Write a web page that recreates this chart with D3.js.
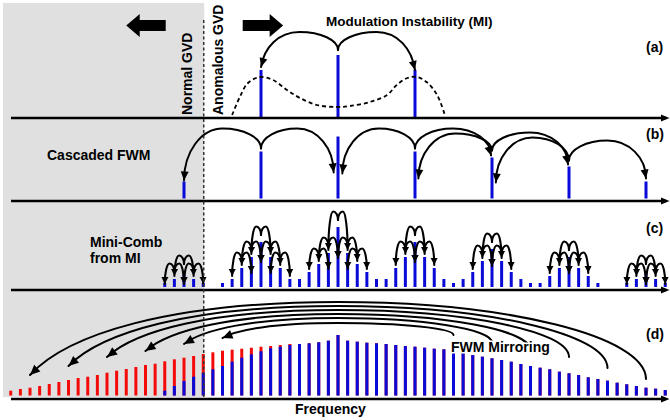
<!DOCTYPE html>
<html><head><meta charset="utf-8">
<script src="https://cdn.jsdelivr.net/npm/d3@7"></script>
<style>body{margin:0;background:#fff}svg{display:block}text{font-family:"Liberation Sans",Arial,sans-serif;font-weight:bold;fill:#000}</style>
</head><body>
<svg id="c" width="670" height="420"></svg>
<script>
// ---------- DATA (frequency index k; pump at k=16; amplitudes in arbitrary units) ----------
const freqDomain = [-18, 50];
const pumpK = 16;

// (a) Modulation instability
const aLinesK = [8, 16, 24];
const aLinesAmp = [47, 62, 47];
const miGainK = [5.0, 5.8, 6.65, 7.9, 9.25, 10.7, 12.05, 13.8, 15.9, 17.25, 19.3, 21.1, 22.1, 23.2, 24.2, 25.2, 26.3, 27.1];
const miGainAmp = [2, 20, 34, 40, 37, 27, 19, 12, 10, 11, 15, 22, 32, 39, 40, 35, 22, 2];
const aArcSrc = [16, 16], aArcTip = [8, 24], aArcStart = [67, 67], aArcPeak = [85, 85], aArcTipAmp = [50, 47];

// (b) Cascaded FWM
const bLinesK = [0, 8, 16, 24, 32, 40, 48];
const bLinesAmp = [17, 47, 62, 47, 41, 32, 17];
const bArcSrc   = [8, 8, 24, 24, 32, 32, 40, 40];
const bArcTip   = [0, 15.55, 16.45, 31.9, 24.35, 39.9, 32.4, 48];
const bArcStart = [50, 50, 50, 50, 48, 48, 38, 38];
const bArcPeak  = [70, 70, 70, 70, 65, 66, 61, 58];
const bArcTipAmp= [18, 26, 25, 43, 20, 34, 16, 20];

// (c) Mini-comb from MI
const cK   = [-2,-1,0,1,2, 4,5,6,7,8,9,10,11,12,13,14,15,16,17,18,19,20,21,22,23,24,25,26,27,28,29,30,31,32,33,34,35,36,37,38,39,40,41,42,43, 46,47,48,49,50];
const cAmp = [4,8,16,8,4, 4,8,19,30,45,30,19,8,8,15,23,34,60,34,23,15,8,8,19,30,45,30,19,8,4,8,15,26,38,26,15,8,4,4,11,19,30,19,11,4, 4,8,16,8,4];
const cGroups = [0, 8, 16, 24, 32, 40, 48];
const cLevels = [2, 3, 3, 2, 2, 2, 2];

// (d) FWM mirroring
const dK = d3.range(-18, 51);
const dTotal = [4.8,6.5,7.8,9.5,11.5,13.5,15.5,17.5,18.8,20.5,22.8,24.8,26.5,28.5,30.5,31.8,34.2,36.2,37.8,39.5,41.5,43.2,44.8,45.8,46.8,47.8,48.8,49.5,50.5,51.5,
  51.5,52.2,53.2,54.8,60.5,54.8,53.8,52.8,52.2,51.5,50.5,49.5,48.8,47.8,46.8,46.2,44.5,42.8,40.5,38.8,37.2,35.5,33.8,31.5,29.5,27.8,26.2,23.8,22.2,20.5,18.2,16.5,14.8,12.8,11.2,9.5,7.8,6.8,5.5];
const dBlue  = [0,0,0,0,0,0,0,0,0,0,0,0,0,0,0,0,4.8,9.5,14.5,18.8,22.8,26.2,29.5,33.8,37.8,41.2,44.2,47.2,48.8,50.5,
  51.5,52.2,53.2,54.8,60.5,54.8,53.8,52.8,52.2,51.5,50.5,49.5,48.8,47.8,46.8,46.2,44.5,42.8,40.5,38.8,37.2,35.5,33.8,31.5,29.5,27.8,26.2,23.8,22.2,20.5,18.2,16.5,14.8,12.8,11.2,9.5,7.8,6.8,5.5];
const dArcSrc = [28, 32, 36, 40, 44, 48];
const dArcTip = [4, 0, -4, -8, -12, -16];
const dArcStart = [60.5, 53, 45.5, 38.5, 27.5, 16.5];
const dArcPeak = [72.5, 77.5, 81.5, 85.5, 89.5, 93.5];
const dArcTipAmp = [57.5, 51.5, 44.5, 38.5, 29.5, 20.5];

// ---------- DRAWING ----------
const BLUE = "#0a0ad8", RED = "#f50a0a";
const svg = d3.select("#c");
const x = d3.scaleLinear().domain(freqDomain).range([10.75, 665.25]);
const axisY = [118, 201, 290, 399];
const yA = d3.scaleLinear().domain([0, 100]).range([117, 17]);
const yB = d3.scaleLinear().domain([0, 100]).range([198.5, 98.5]);
const yC = d3.scaleLinear().domain([0, 100]).range([287, 187]);
const yD = d3.scaleLinear().domain([0, 100]).range([395.5, 295.5]);

// grey normal-GVD region
svg.append("rect").attr("x", 3).attr("y", 3).attr("width", x(2.1) - 3).attr("height", 394).attr("fill", "#e0e0e0");

const gBars = svg.append("g"), gArcs = svg.append("g");

function bars(ks, amps, y, color) {
  gBars.selectAll(null).data(ks.map((k, i) => [k, amps[i]]).filter(d => d[1] > 0)).enter()
    .append("rect").attr("x", d => x(d[0]) - 1.5).attr("width", 3)
    .attr("y", d => y(d[1])).attr("height", d => y(0) - y(d[1])).attr("fill", color);
}

function arc(x0, y0, xp, yp, x1, y1, sw, headLen, headW, back, slant) {
  const k = 0.5523, sl = slant || 0;
  const d = `M${x0},${y0}C${x0},${y0 - k * (y0 - yp)} ${xp + k * (x0 - xp)},${yp} ${xp},${yp}` +
            `C${xp + k * (x1 - xp)},${yp} ${x1 + sl * (xp - x1)},${y1 - k * (y1 - yp)} ${x1},${y1}`;
  const p = gArcs.append("path").attr("d", d).attr("fill", "none").attr("stroke", "#000")
    .attr("stroke-width", sw).attr("stroke-linecap", "round");
  if (headLen > 0) {
    const node = p.node(), L = node.getTotalLength();
    const q = node.getPointAtLength(Math.max(0, L - back));
    let dx = x1 - q.x, dy = y1 - q.y; const n = Math.hypot(dx, dy) || 1; dx /= n; dy /= n;
    const bx = x1 - dx * headLen, by = y1 - dy * headLen;
    gArcs.append("path").attr("d", `M${x1},${y1}L${bx - dy * headW},${by + dx * headW}L${bx + dy * headW},${by - dx * headW}Z`)
      .attr("fill", "#000");
  }
}

// (a)
bars(aLinesK, aLinesAmp, yA, BLUE);
gArcs.append("path").datum(miGainK.map((k, i) => [k, miGainAmp[i]]))
  .attr("d", d3.line().x(d => x(d[0])).y(d => yA(d[1])).curve(d3.curveCatmullRom))
  .attr("fill", "none").attr("stroke", "#000").attr("stroke-width", 1.8).attr("stroke-dasharray", "4,3");
aArcSrc.forEach((s, i) => arc(x(s), yA(aArcStart[i]), (x(s) + x(aArcTip[i])) / 2, yA(aArcPeak[i]), x(aArcTip[i]), yA(aArcTipAmp[i]), 2, 9, 4, 12, 0.08));

// (b)
bars(bLinesK, bLinesAmp, yB, BLUE);
bArcSrc.forEach((s, i) => arc(x(s), yB(bArcStart[i]), (x(s) + x(bArcTip[i])) / 2, yB(bArcPeak[i]), x(bArcTip[i]), yB(bArcTipAmp[i]), 2, 9, 4, 12));

// (c)
bars(cK, cAmp, yC, BLUE);
const cTop = k => { const i = cK.indexOf(k); return yC(i < 0 ? 0 : cAmp[i]); };
cGroups.forEach((g, gi) => {
  for (let l = 0; l < cLevels[gi]; l++) {
    const srcs = l === 0 ? [g] : [g - l, g + l];
    srcs.forEach(s => [s - 1, s + 1].forEach(t => {
      const ts = cTop(s), tt = cTop(t);
      const tipY = Math.max(tt - 3, ts + 5);
      arc(x(s), ts - 7, (x(s) + x(t)) / 2, ts - 15.5, x(t), tipY, 2.1, 7, 3.5, 5);
    }));
  }
});

// (d)
bars(dK, dTotal, yD, RED);
bars(dK, dBlue, yD, BLUE);
dArcSrc.forEach((s, i) => arc(x(s), yD(dArcStart[i]), x(pumpK), yD(dArcPeak[i]), x(dArcTip[i]), yD(dArcTipAmp[i]), 2, 10, 4.5, 14, 0.12));

// axes (frequency)
axisY.forEach(yy => {
  svg.append("line").attr("x1", 11).attr("x2", 666).attr("y1", yy).attr("y2", yy).attr("stroke", "#000").attr("stroke-width", 2.5);
  svg.append("path").attr("d", `M669.5,${yy}L661,${yy - 3.5}L661,${yy + 3.5}Z`).attr("fill", "#000");
});

// dashed zero-dispersion line
svg.append("line").attr("x1", x(2.05)).attr("x2", x(2.05)).attr("y1", 20).attr("y2", 399)
  .attr("stroke", "#333").attr("stroke-width", 1.5).attr("stroke-dasharray", "3,2.5");

// block arrows
const ay = yA(91.5);
svg.append("path").attr("d", `M${x(-6)},${ay}L${x(-4.6)},${ay - 11.5}L${x(-4.6)},${ay - 5.5}L${x(-1.9)},${ay - 5.5}L${x(-1.9)},${ay + 5.5}L${x(-4.6)},${ay + 5.5}L${x(-4.6)},${ay + 11.5}Z`).attr("fill", "#000");
svg.append("path").attr("d", `M${x(10.3)},${ay}L${x(8.9)},${ay - 11.5}L${x(8.9)},${ay - 5.5}L${x(6.1)},${ay - 5.5}L${x(6.1)},${ay + 5.5}L${x(8.9)},${ay + 5.5}L${x(8.9)},${ay + 11.5}Z`).attr("fill", "#000");

// texts
function txt(s, tx, ty, size, extra) {
  const t = svg.append("text").attr("x", tx).attr("y", ty).style("font-size", size + "px").text(s);
  if (extra) extra(t);
  return t;
}
txt("Normal GVD", 0, 0, 14, t => t.attr("transform", "translate(192,115) rotate(-90)"));
txt("Anomalous GVD", 0, 0, 14, t => t.attr("transform", "translate(223,115) rotate(-90)"));
txt("Modulation Instability (MI)", 326, 26, 13.5);
txt("(a)", 646, 52, 14);
txt("Cascaded FWM", 47, 160, 14);
txt("(b)", 646, 139, 14);
txt("Mini-Comb", 90, 247, 14);
txt("from MI", 90, 263, 14);
txt("(c)", 646, 233, 14);
txt("FWM Mirroring", 451, 352, 14, t => t.style("stroke", "#fff").style("stroke-width", "3px").style("paint-order", "stroke").style("stroke-linejoin", "round"));
txt("(d)", 646, 339, 14);
txt("Frequency", 295, 414, 14);
</script>
</body></html>
